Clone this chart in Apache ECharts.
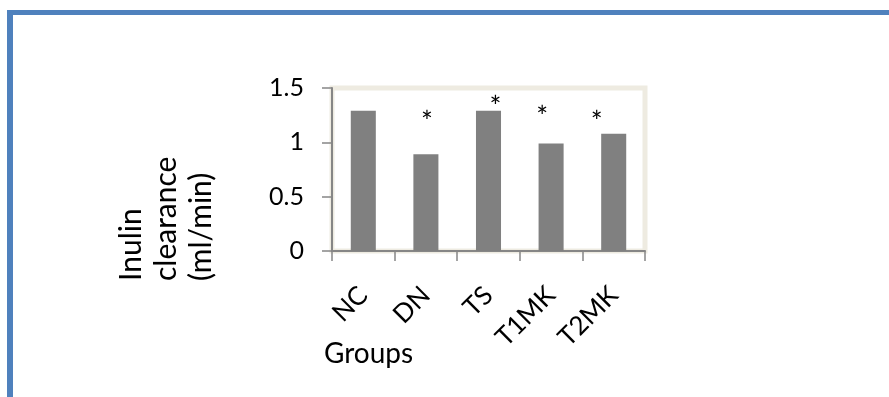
<!DOCTYPE html>
<html>
<head>
<meta charset="utf-8">
<script src="https://cdn.jsdelivr.net/npm/echarts@6/dist/echarts.min.js"></script>
<style>
  html, body { margin: 0; padding: 0; background: #ffffff; }
  #frame { position: absolute; left: 7px; top: 10px; width: 900px; height: 400px;
           border-top: 5px solid #4F81BD; border-left: 6px solid #4F81BD; }
  #chart { position: absolute; left: 0; top: 0; width: 889px; height: 397px; }
</style>
</head>
<body>
<div id="frame"></div>
<div id="chart"></div>
<script>
const categories = ['NC', 'DN', 'TS', 'T1MK', 'T2MK'];
const clearance = [1.29, 0.89, 1.29, 0.99, 1.08];
const marks = ['', '*', '*', '*', '*'];
const yTicks = [0, 0.5, 1, 1.5];
const yTitle = 'Inulin\nclearance\n(ml/min)';
const xTitle = 'Groups';

const FONT = 'Lato, "Open Sans", sans-serif';
const markOffsets = [[0, 0], [1, -17], [7, 11], [-9, -11], [-17, 3]];

const chart = echarts.init(document.getElementById('chart'), null, { renderer: 'canvas' });
chart.setOption({
  animation: false,
  grid: { left: 332, right: 244, top: 88, bottom: 146, show: true,
          borderColor: '#EEEBE1', borderWidth: 5, backgroundColor: 'transparent' },
  xAxis: {
    type: 'category', data: categories,
    axisLine: { lineStyle: { color: '#868686', width: 2 } },
    axisTick: { show: true, length: 10, lineStyle: { color: '#868686', width: 1.5 } },
    axisLabel: { rotate: 45, margin: 40, fontSize: 26, color: '#000', fontFamily: FONT, interval: 0 }
  },
  yAxis: {
    type: 'value', min: 0, max: 1.5, interval: 0.5,
    splitLine: { show: false },
    axisLine: { show: true, lineStyle: { color: '#868686', width: 2 } },
    axisTick: { show: true, length: 10, lineStyle: { color: '#868686', width: 1.5 } },
    axisLabel: { margin: 28, fontSize: 25, color: '#000', fontFamily: FONT,
                 formatter: v => (yTicks.indexOf(v) >= 0 ? String(v) : '') }
  },
  graphic: [
    { type: 'text', x: 114, y: 281, rotation: Math.PI / 2,
      style: { text: yTitle, font: '30px ' + FONT, fill: '#000', textAlign: 'left',
               textVerticalAlign: 'top', lineHeight: 35 } },
    { type: 'text', x: 324, y: 340,
      style: { text: xTitle, font: '28px ' + FONT, fill: '#000', textAlign: 'left',
               textVerticalAlign: 'top' } }
  ],
  series: [{
    type: 'bar', barWidth: '40%',
    itemStyle: { color: '#808080' },
    data: clearance.map((v, i) => ({
      value: v,
      label: { show: marks[i] !== '', formatter: marks[i], position: 'top', distance: 0,
               offset: markOffsets[i], fontSize: 28, lineHeight: 28, color: '#000', fontFamily: FONT }
    }))
  }]
});
</script>
</body>
</html>
